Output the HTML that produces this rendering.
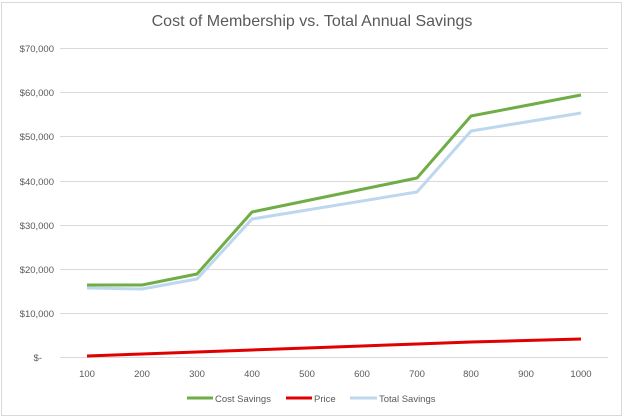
<!DOCTYPE html>
<html><head><meta charset="utf-8"><style>
body{margin:0;background:#fff;}
svg{display:block;font-family:"Liberation Sans",sans-serif;}
</style></head><body>
<svg width="625" height="418" viewBox="0 0 625 418">
<rect x="1.5" y="2.5" width="620" height="413" fill="#fff" stroke="#d9d9d9"/>
<text x="312" y="26" text-anchor="middle" font-size="16" fill="#595959">Cost of Membership vs. Total Annual Savings</text>
<g stroke="#d9d9d9" stroke-width="1">
<line x1="60" x2="608" y1="48.5" y2="48.5"/>
<line x1="60" x2="608" y1="92.5" y2="92.5"/>
<line x1="60" x2="608" y1="136.5" y2="136.5"/>
<line x1="60" x2="608" y1="181.5" y2="181.5"/>
<line x1="60" x2="608" y1="225.5" y2="225.5"/>
<line x1="60" x2="608" y1="269.5" y2="269.5"/>
<line x1="60" x2="608" y1="313.5" y2="313.5"/>
<line x1="60" x2="608" y1="357.5" y2="357.5"/>
</g>
<g font-size="9.5" fill="#595959" text-anchor="end">
<text x="54" y="52">$70,000</text>
<text x="54" y="96">$60,000</text>
<text x="54" y="140">$50,000</text>
<text x="54" y="185">$40,000</text>
<text x="54" y="229">$30,000</text>
<text x="54" y="273">$20,000</text>
<text x="54" y="317">$10,000</text>
<text x="42" y="361">$-</text>
</g>
<g font-size="9.5" fill="#595959" text-anchor="middle">
<text x="87" y="377">100</text><text x="142" y="377">200</text><text x="197" y="377">300</text>
<text x="252" y="377">400</text><text x="307" y="377">500</text><text x="362" y="377">600</text>
<text x="417" y="377">700</text><text x="471" y="377">800</text><text x="526" y="377">900</text>
<text x="581" y="377">1000</text>
</g>
<polyline fill="none" stroke="#bdd7ee" stroke-width="3" stroke-linejoin="round" points="87,288 142,289 197,279 252,219 417,192 471,131 581,113"/>
<polyline fill="none" stroke="#70ad47" stroke-width="3" stroke-linejoin="round" points="87,285 142,285 197,274 252,212 417,178 471,116 581,95"/>
<polyline fill="none" stroke="#e00000" stroke-width="3" points="87,356 142,354 197,352 252,350 307,348 362,346 417,344 471,342 526,340.5 581,339"/>
<g font-size="9.5" fill="#595959">
<line x1="187" x2="213" y1="398" y2="398" stroke="#70ad47" stroke-width="3"/>
<text x="215" y="402">Cost Savings</text>
<line x1="286" x2="312" y1="398" y2="398" stroke="#e00000" stroke-width="3"/>
<text x="314" y="402">Price</text>
<line x1="350" x2="377" y1="398" y2="398" stroke="#bdd7ee" stroke-width="3"/>
<text x="379" y="402">Total Savings</text>
</g>
</svg>
</body></html>
